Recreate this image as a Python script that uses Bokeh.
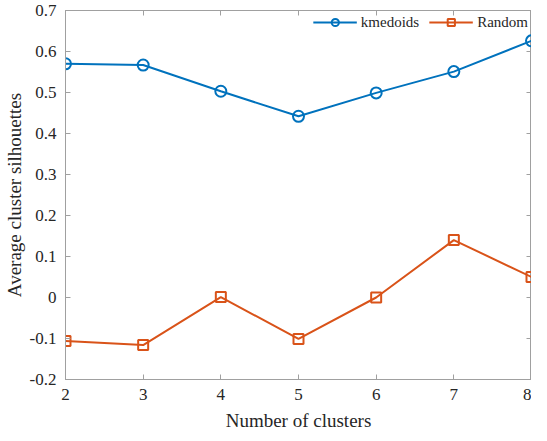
from bokeh.plotting import figure
from bokeh.models import LinearAxis, FixedTicker, Legend, LegendItem, Range1d
from bokeh.embed import file_html
from bokeh.resources import INLINE

clusters = [2, 3, 4, 5, 6, 7, 8]
kmedoids = [0.570, 0.567, 0.503, 0.442, 0.499, 0.551, 0.626]
random_vals = [-0.106, -0.116, 0.001, -0.101, 0.000, 0.140, 0.050]
x_ticks = [2, 3, 4, 5, 6, 7, 8]
y_ticks = [-0.2, -0.1, 0, 0.1, 0.2, 0.3, 0.4, 0.5, 0.6, 0.7]
y_labels = ["-0.2", "-0.1", "0", "0.1", "0.2", "0.3", "0.4", "0.5", "0.6", "0.7"]

BLUE = "#0072BD"
ORANGE = "#D95319"
AXIS = "#a0a0a0"
TEXT = "#262626"
FONT = "Liberation Serif"

p = figure(width=531, height=433, output_backend="svg", toolbar_location=None,
           x_range=Range1d(2, 8), y_range=Range1d(-0.2, 0.7),
           min_border_left=56, min_border_right=0, min_border_top=10, min_border_bottom=49)
p.grid.visible = False
p.outline_line_color = AXIS
p.background_fill_color = "white"
p.border_fill_color = "white"

def style_axis(ax, ticks, labels=None):
    ax.ticker = FixedTicker(ticks=ticks)
    ax.axis_line_color = AXIS
    ax.major_tick_line_color = AXIS
    ax.minor_tick_line_color = None
    ax.major_tick_in = 5
    ax.major_tick_out = 0
    ax.major_label_text_font = FONT
    ax.major_label_text_font_style = "normal"
    ax.major_label_text_color = TEXT
    ax.axis_label_text_font = FONT
    ax.axis_label_text_color = TEXT
    ax.axis_label_text_font_style = "normal"
    if labels is None:
        ax.major_label_overrides = {t: "" for t in ticks}
        ax.major_label_text_font_size = "1px"
        ax.major_label_standoff = 0
        ax.axis_label_standoff = 0
    else:
        ax.major_label_overrides = {t: l for t, l in zip(ticks, labels)}

xa = p.xaxis[0]
style_axis(xa, x_ticks, [str(t) for t in x_ticks])
xa.major_label_text_font_size = "17px"
xa.axis_label = "Number of clusters"
xa.axis_label_text_font_size = "19px"
xa.major_label_standoff = 9
xa.axis_label_standoff = 7

ya = p.yaxis[0]
style_axis(ya, y_ticks, y_labels)
ya.major_label_text_font_size = "17px"
ya.axis_label = "Average cluster silhouettes"
ya.axis_label_text_font_size = "19px"
ya.major_label_standoff = 9
ya.axis_label_standoff = 2

ra = LinearAxis()
style_axis(ra, y_ticks)
p.add_layout(ra, "right")
ta = LinearAxis()
style_axis(ta, x_ticks)
ta.major_label_standoff = 9
p.add_layout(ta, "above")

l1 = p.line(clusters, kmedoids, line_color=BLUE, line_width=2)
m1 = p.scatter(clusters, kmedoids, marker="circle", size=11, line_color=BLUE,
               line_width=2, fill_color=None)
l2 = p.line(clusters, random_vals, line_color=ORANGE, line_width=2)
m2 = p.scatter(clusters, random_vals, marker="square", size=10, line_color=ORANGE,
               line_width=2, fill_color=None)

legend = Legend(items=[LegendItem(label="kmedoids", renderers=[l1, m1]),
                       LegendItem(label="Random", renderers=[l2, m2])],
                orientation="horizontal", location="top_right")
legend.label_text_font = FONT
legend.label_text_font_style = "normal"
legend.label_text_font_size = "15px"
legend.label_text_color = TEXT
legend.border_line_color = None
legend.background_fill_alpha = 0
legend.glyph_width = 44
legend.glyph_height = 18
legend.label_height = 18
legend.label_standoff = 4
legend.spacing = 10
legend.padding = 0
legend.margin = 3
p.add_layout(legend)

open("out.html", "w").write(file_html(p, INLINE))
